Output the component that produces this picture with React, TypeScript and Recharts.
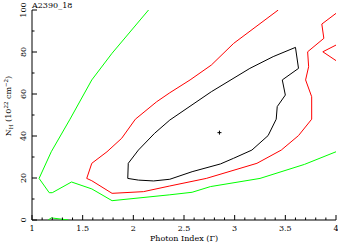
import React from "react"
import { ScatterChart, Scatter, XAxis, YAxis } from "recharts"

// contour levels (Photon index vs N_H)
const greenOuter = [
  { x: 2.15, y: 100 }, { x: 1.79, y: 79.4 }, { x: 1.59, y: 66.7 }, { x: 1.375, y: 48 },
  { x: 1.19, y: 32.5 }, { x: 1.07, y: 19.8 }, { x: 1.17, y: 13 }, { x: 1.2, y: 13 },
  { x: 1.39, y: 18.1 }, { x: 1.59, y: 14.8 }, { x: 1.79, y: 9.2 }, { x: 2.36, y: 12 },
  { x: 2.58, y: 13.2 }, { x: 2.76, y: 15.9 }, { x: 3.25, y: 19.8 }, { x: 3.69, y: 26.5 },
  { x: 4.0, y: 32.5 },
]
const greenSmall = [{ x: 1.16, y: 0 }, { x: 1.19, y: 1 }, { x: 1.36, y: 0 }]

const redMain = [
  { x: 3.43, y: 100 }, { x: 2.99, y: 84.1 }, { x: 2.77, y: 73.8 }, { x: 2.56, y: 66.7 },
  { x: 2.36, y: 60.6 }, { x: 2.23, y: 56.3 }, { x: 2.02, y: 48 }, { x: 1.885, y: 38.9 },
  { x: 1.74, y: 32.5 }, { x: 1.59, y: 27 }, { x: 1.54, y: 19.8 }, { x: 1.59, y: 18.7 },
  { x: 1.79, y: 12.7 }, { x: 2.1, y: 13.5 }, { x: 2.36, y: 16.2 }, { x: 2.72, y: 19.8 },
  { x: 3.22, y: 27 }, { x: 3.46, y: 33.3 }, { x: 3.63, y: 40.2 }, { x: 3.76, y: 48 },
  { x: 3.76, y: 58.7 }, { x: 3.7, y: 66.7 }, { x: 3.73, y: 73 }, { x: 3.72, y: 80.1 },
  { x: 3.88, y: 86.5 }, { x: 3.86, y: 93.3 }, { x: 4.0, y: 98.4 },
]
const redSide = [{ x: 4, y: 83.3 }, { x: 3.87, y: 80.1 }, { x: 4, y: 75.9 }]

const blackInner = [
  { x: 2.36, y: 47.6 }, { x: 2.21, y: 41.3 }, { x: 2.05, y: 33.3 }, { x: 1.95, y: 27 },
  { x: 1.945, y: 19.8 }, { x: 2.05, y: 19 }, { x: 2.2, y: 18.6 }, { x: 2.36, y: 19.4 },
  { x: 2.58, y: 23 }, { x: 2.86, y: 26.7 }, { x: 2.99, y: 29.4 }, { x: 3.17, y: 33.3 },
  { x: 3.33, y: 40.2 }, { x: 3.41, y: 48 }, { x: 3.42, y: 54 }, { x: 3.5, y: 59.5 },
  { x: 3.47, y: 66.7 }, { x: 3.63, y: 72.2 }, { x: 3.6, y: 82.2 }, { x: 3.38, y: 77.8 },
  { x: 3.15, y: 72.2 }, { x: 2.77, y: 61.1 }, { x: 2.36, y: 47.6 },
]

const bestFit = [{ x: 2.85, y: 41.6 }]

const xMajor = [1, 1.5, 2, 2.5, 3, 3.5, 4]
const yMajor = [0, 20, 40, 60, 80, 100]
const xTicks = Array.from({ length: 31 }, (_, i) => Math.round((1 + i * 0.1) * 10) / 10)
const yTicks = Array.from({ length: 11 }, (_, i) => i * 10)

const FONT = "'DejaVu Serif', 'Liberation Serif', serif"
const isMajor = (list: number[], v: number) => list.some(m => Math.abs(m - v) < 1e-6)

function XTick({ x, y, payload, side }: any) {
  const major = isMajor(xMajor, payload.value)
  const len = major ? 5 : 2.5
  const dir = side === "top" ? 1 : -1
  return (
    <g>
      <line x1={x} x2={x} y1={y} y2={y + dir * len} stroke="#000" strokeWidth={1} />
      {side === "bottom" && major && (
        <text x={x} y={y + 11} textAnchor="middle" fontSize={8} fontFamily={FONT} fill="#000">
          {payload.value}
        </text>
      )}
    </g>
  )
}

function YTick({ x, y, payload, side }: any) {
  const major = isMajor(yMajor, payload.value)
  const len = major ? 5 : 2.5
  const dir = side === "left" ? 1 : -1
  return (
    <g>
      <line x1={x} x2={x + dir * len} y1={y} y2={y} stroke="#000" strokeWidth={1} />
      {side === "left" && major && (
        <text x={x - 6} y={y} transform={`rotate(-90, ${x - 6}, ${y})`} textAnchor="middle"
          fontSize={8} fontFamily={FONT} fill="#000">
          {payload.value}
        </text>
      )}
    </g>
  )
}

const noDot = () => <g />
const Plus = ({ cx, cy }: any) => (
  <g stroke="#000" strokeWidth={1}>
    <line x1={cx - 2} x2={cx + 2} y1={cy} y2={cy} />
    <line x1={cx} x2={cx} y1={cy - 2} y2={cy + 2} />
  </g>
)

export default function App() {
  const contour = (data: any[], color: string, key: string) => (
    <Scatter key={key} data={data} xAxisId="b" yAxisId="l" line={{ stroke: color, strokeWidth: 1 }}
      lineType="joint" shape={noDot} isAnimationActive={false} />
  )
  return (
    <div style={{ position: "absolute", left: 0, top: 0, width: 338, height: 243, background: "#fff" }}>
      <ScatterChart width={338} height={243} margin={{ top: 10, right: 2, bottom: 0, left: 0 }}>
        <XAxis xAxisId="b" type="number" dataKey="x" domain={[1, 4]} ticks={xTicks} interval={0}
          height={23} tickSize={0} tickMargin={0} axisLine={{ stroke: "#000" }} tickLine={false}
          allowDataOverflow tick={<XTick side="bottom" />} />
        <XAxis xAxisId="t" orientation="top" type="number" dataKey="x" domain={[1, 4]} ticks={xTicks}
          interval={0} height={0} tickSize={0} tickMargin={0} axisLine={{ stroke: "#000" }} tickLine={false}
          allowDataOverflow tick={<XTick side="top" />} />
        <YAxis yAxisId="l" type="number" dataKey="y" domain={[0, 100]} ticks={yTicks} interval={0}
          width={32} tickSize={0} tickMargin={0} axisLine={{ stroke: "#000" }} tickLine={false}
          allowDataOverflow tick={<YTick side="left" />} />
        <YAxis yAxisId="r" orientation="right" type="number" dataKey="y" domain={[0, 100]} ticks={yTicks}
          interval={0} width={0} tickSize={0} tickMargin={0} axisLine={{ stroke: "#000" }} tickLine={false}
          allowDataOverflow tick={<YTick side="right" />} />
        {contour(greenOuter, "#00ff00", "g1")}
        {contour(greenSmall, "#00ff00", "g2")}
        {contour(redMain, "#ff0000", "r1")}
        {contour(redSide, "#ff0000", "r2")}
        {contour(blackInner, "#000000", "k1")}
        <Scatter data={bestFit} xAxisId="b" yAxisId="l" shape={Plus} isAnimationActive={false} />
      </ScatterChart>
      <svg width={338} height={243} style={{ position: "absolute", left: 0, top: 0, pointerEvents: "none" }}>
        <text x={32} y={8} fontSize={8} fontFamily={FONT} fill="#000">A2390_18</text>
        <text x={184} y={241} textAnchor="middle" fontSize={8} fontFamily={FONT} fill="#000">
          Photon Index (Γ)
        </text>
        <text x={11} y={106} transform="rotate(-90, 11, 106)" textAnchor="middle" fontSize={8} fontFamily={FONT} fill="#000">
          N<tspan fontSize={5.5} dy={2}>H</tspan>
          <tspan dy={-2}> (10</tspan>
          <tspan fontSize={5.5} dy={-3}>22</tspan>
          <tspan dy={3}> cm</tspan>
          <tspan fontSize={5.5} dy={-3}>−2</tspan>
          <tspan dy={3}>)</tspan>
        </text>
      </svg>
    </div>
  )
}
